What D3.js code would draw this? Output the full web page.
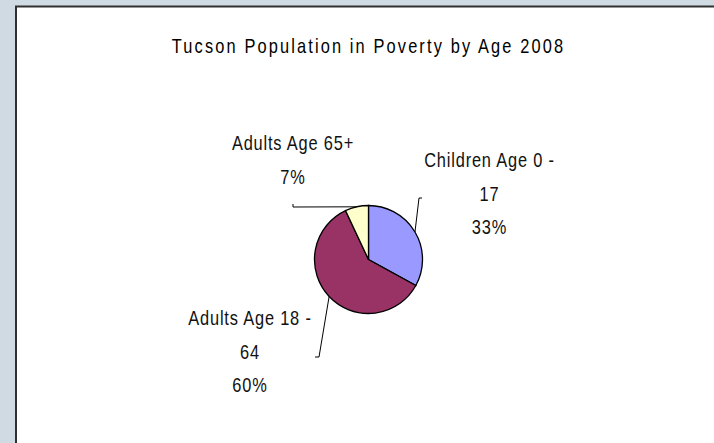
<!DOCTYPE html>
<html>
<head>
  <meta charset="UTF-8">
  <style>
    body {
        margin: 0;
        background: #cfdae2;
        font-family: "Liberation Sans", Arial, sans-serif;
    }
    .title {
        font-size: 20px;
        letter-spacing: 2.6px;
    }
    .label {
        font-size: 20px;
        letter-spacing: 1px;
    }
  </style>
</head>
<body>
<svg width="714" height="443"></svg>

<script src="https://d3js.org/d3.v7.min.js"></script>
<script>

// chart data
const title = "Tucson Population in Poverty by Age 2008";
const categories = ["Children Age 0 - 17", "Adults Age 18 - 64", "Adults Age 65+"];
const values = [33, 60, 7];
const labelLines = [
  ["Children Age 0 -", "17", "33%"],
  ["Adults Age 18 -", "64", "60%"],
  ["Adults Age 65+", "7%"]
];
const colors = ["#9999ff", "#993366", "#ffffcc"];

// layout (relative to pie centre)
const cx = 368.5, cy = 259.5, radius = 54;
const lineGap = 33.5;
const narrow = 0.82;   // no narrow font installed, squeeze glyphs instead
// label centre x, first baseline y, elbow of leader, direction of the short tick
const labelPos = [
  {x: 121, y: -92.5, ex: 50.5, ey: -61.5, tick: 3},
  {x: -118.5, y: 65.5, ex: -49.5, ey: 97.5, tick: -4},
  {x: -75.5, y: -109.5, ex: -75.5, ey: -52.5, tick: -3}
];

const svg = d3.select("svg");

// frame
svg.append("rect")
  .attr("x", 16)
  .attr("y", 6.5)
  .attr("width", 760)
  .attr("height", 500)
  .attr("fill", "white")
  .attr("stroke", "#303030")
  .attr("stroke-width", 2);

svg.append("text")
  .attr("class", "title")
  .attr("transform", "translate(" + cx + ",53) scale(" + narrow + ",1)")
  .attr("text-anchor", "middle")
  .attr("fill", "#000")
  .text(title);

const pie = d3.pie().sort(null).value(d => d)(values);
const arc = d3.arc().innerRadius(0).outerRadius(radius);

const g = svg.append("g")
  .attr("transform", "translate(" + cx + "," + cy + ")");

g.selectAll("path")
  .data(pie)
  .join("path")
    .attr("d", arc)
    .attr("fill", (d, i) => colors[i])
    .attr("stroke", "black")
    .attr("stroke-width", 1.3);

// leader lines
g.selectAll("polyline")
  .data(pie)
  .join("polyline")
    .attr("fill", "none")
    .attr("stroke", "black")
    .attr("stroke-width", 1)
    .attr("points", (d, i) => {
      const a = (d.startAngle + d.endAngle) / 2;
      const p = labelPos[i];
      const sx = radius * Math.sin(a), sy = -radius * Math.cos(a);
      const tail = i === 2 ? [p.ex, p.ey + p.tick] : [p.ex + p.tick, p.ey];
      return [[sx, sy], [p.ex, p.ey], tail].map(q => q.join(",")).join(" ");
    });

// labels, one text per line
const lines = [];
pie.forEach((d, i) => labelLines[i].forEach((t, k) => lines.push({t, k, p: labelPos[i]})));

g.selectAll("text.label")
  .data(lines)
  .join("text")
    .attr("class", "label")
    .attr("text-anchor", "middle")
    .attr("fill", "#111")
    .attr("transform", d => "translate(" + d.p.x + "," + (d.p.y + d.k * lineGap) + ") scale(" + narrow + ",1)")
    .text(d => d.t);

</script>
</body>
</html>
